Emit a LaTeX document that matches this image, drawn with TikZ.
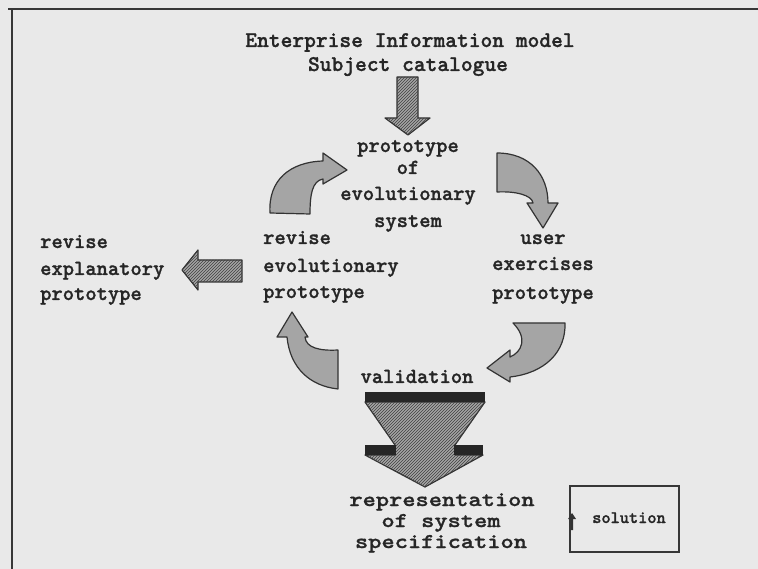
\documentclass[tikz,border=0pt]{standalone}
\usepackage{fontspec}
\usepackage{tikz}
\usetikzlibrary{patterns}

\newfontfamily\labelfont{lmmonolt10-bold.otf}[FakeBold=1.2]
\newfontfamily\widefont{lmmonolt10-bold.otf}[FakeBold=1.2, FakeStretch=1.2]

\definecolor{paper}{RGB}{233,233,233}
\definecolor{arrowgray}{RGB}{165,165,165}
\definecolor{framegray}{RGB}{55,55,55}

\newcommand{\lblfont}[1]{\labelfont\fontsize{#1}{#1}\selectfont}

\tikzset{
  lbl/.style={font=\lblfont{21.5}, inner sep=0pt, anchor=base, text=black!85},
  curvedarrow/.style={draw=black!80, line width=1.2pt, fill=arrowgray, line join=round},
  hatcharrow/.style={draw=black!80, line width=1.2pt, fill=arrowgray, line join=round,
    postaction={pattern=north east lines, pattern color=black!75}},
}

\begin{document}
\begin{tikzpicture}[x=1pt,y=-1pt]

                \fill[paper] (0,0) rectangle (758,569);
                \useasboundingbox (0,0) rectangle (758,569);

                % frame
                \draw[framegray, line width=2pt] (8,9) -- (758,9);
                \draw[framegray, line width=2pt] (12,9) -- (12,569);

                % source of the cycle
                \node[lbl, font=\lblfont{22.4}] (model) at (410,47) {Enterprise Information model};
                \node[lbl, font=\lblfont{22.4}] (catalogue) at (408,71) {Subject catalogue};
                \draw[hatcharrow] (397,77) -- (418,77) -- (418,118) -- (430,118) -- (408,135) -- (385,118) -- (397,118) -- cycle;

                % prototype
                \node[lbl] (proto1) at (408,152) {prototype};
                \node[lbl] (proto2) at (408,174) {of};
                \node[lbl] (proto3) at (408,200) {evolutionary};
                \node[lbl] (proto4) at (408,227) {system};

                % user exercises
                \node[lbl] (user1) at (543,244) {user};
                \node[lbl] (user2) at (543,270) {exercises};
                \node[lbl] (user3) at (543,299) {prototype};

                % revise evolutionary
                \node[lbl, anchor=base west] (rev1) at (263,244) {revise};
                \node[lbl, anchor=base west] (rev2) at (263,272) {evolutionary};
                \node[lbl, anchor=base west] (rev3) at (263,298) {prototype};

                % revise explanatory
                \node[lbl, anchor=base west] (expl1) at (40,248) {revise};
                \node[lbl, anchor=base west] (expl2) at (40,275) {explanatory};
                \node[lbl, anchor=base west] (expl3) at (40,300) {prototype};
                \draw[hatcharrow] (242,260) -- (198,260) -- (198,250) -- (182,270) -- (198,290) -- (198,282) -- (242,282) -- cycle;

                % the four curved arrows of the cycle
                \draw[curvedarrow] (270,213) .. controls (268,180) and (290,162) .. (323,161)
                      -- (323,153) -- (347,170) -- (323,184) -- (323,179)
                      .. controls (312,181) and (310,195) .. (310,214) -- cycle;
                \draw[curvedarrow] (497,153) .. controls (530,153) and (548,175) .. (548,203)
                      -- (558,203) -- (543,228) -- (527,203) -- (533,203)
                      .. controls (532,195) and (515,191) .. (497,192) -- cycle;
                \draw[curvedarrow] (513,323) -- (565,323) .. controls (566,352) and (545,373) .. (510,377)
                      -- (510,382) -- (487,368) -- (510,350) -- (510,357)
                      .. controls (522,352) and (528,338) .. (513,323) -- cycle;
                \draw[curvedarrow] (338,389) .. controls (310,386) and (290,368) .. (287,337)
                      -- (277,337) -- (292,312) -- (308,337) -- (305,337)
                      .. controls (306,348) and (320,351) .. (338,350) -- cycle;

                % validation
                \node[lbl] (valid) at (417,383) {validation};
                \draw[hatcharrow] (365,402) -- (485,402) -- (455,445) -- (455,455) -- (483,455) -- (425,487)
                      -- (365,455) -- (395,455) -- (395,445) -- cycle;
                \fill[black!85] (365,392) rectangle (485,402);
                \fill[black!85] (365,445) rectangle (396,455);
                \fill[black!85] (454,445) rectangle (483,455);

                % result
                \node[lbl, font=\widefont\fontsize{21}{21}\selectfont] (spec1) at (442,506) {representation};
                \node[lbl, font=\widefont\fontsize{21}{21}\selectfont] (spec2) at (441,527) {of system};
                \node[lbl, font=\widefont\fontsize{21}{21}\selectfont] (spec3) at (441,548) {specification};

                % legend
                \draw[framegray, line width=1.5pt] (570,486) rectangle (679,552);
                \node[lbl, font=\lblfont{17.5}] (solution) at (629,523) {solution};
                \fill[black!80] (571,530) -- (571,519) -- (568,519) -- (572,513) -- (576,519) -- (573,519) -- (573,530) -- cycle;
            \end{tikzpicture}
\end{document}
